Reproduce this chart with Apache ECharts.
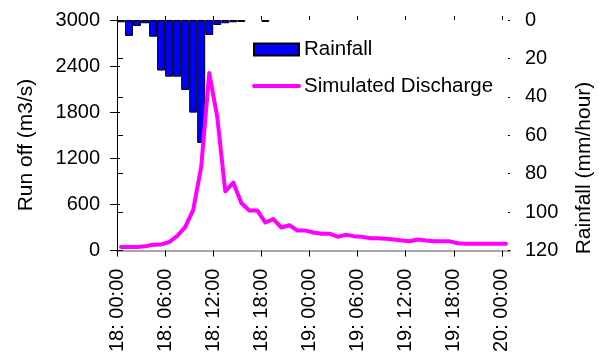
<!DOCTYPE html>
<html>
<head>
<meta charset="utf-8">
<script src="https://cdn.jsdelivr.net/npm/echarts@6/dist/echarts.min.js"></script>
<style>
html,body{margin:0;padding:0;background:#fff;}
#chart{width:599px;height:355px;}
</style>
</head>
<body>
<div id="chart"></div>
<script>
// Hourly data, 18: 00:00 to 20: 00:00 (49 hourly categories)
const hourCount = 49;
const tickHours = [0, 6, 12, 18, 24, 30, 36, 42, 48];
const tickLabels = ['18: 00:00', '18: 06:00', '18: 12:00', '18: 18:00', '19: 00:00', '19: 06:00', '19: 12:00', '19: 18:00', '20: 00:00'];

// Rainfall (mm/hour)
const rainfall = [1.2, 8.3, 3.1, 1.7, 8.7, 26.3, 29.5, 29.5, 36.4, 48.2,
  64, 7.8, 2.6, 1.7, 1.2, 1, 0, 0, 1, 0,
  0, 0, 0, 0, 0, 0, 0, 0, 0, 0,
  0, 0, 0, 0, 0, 0, 0, 0, 0, 0,
  0, 0, 0, 0, 0, 0, 0, 0, 0];

// Simulated discharge (m3/s)
const discharge = [48, 48, 48, 55, 75, 80, 110, 190, 305, 530,
  1090, 2310, 1740, 770, 885, 620, 520, 520, 365, 410,
  300, 330, 260, 260, 235, 220, 220, 180, 205, 188,
  180, 162, 160, 155, 143, 132, 122, 145, 130, 122,
  120, 120, 95, 90, 90, 90, 90, 90, 90];

const FONT = "'Liberation Sans', Arial, sans-serif";
const chart = echarts.init(document.getElementById('chart'), null, {renderer: 'canvas'});

const barData = rainfall.map((v, i) => [i + 0.5, v]).filter(d => d[1] > 0);
const lineData = discharge.map((v, i) => [i + 0.5, v]);

const txt = {color: '#000', fontSize: 20, fontFamily: FONT};
const plain = v => String(v);

chart.setOption({
  animation: false,
  backgroundColor: '#fff',
  grid: {left: 117, top: 20, width: 393, height: 231, containLabel: false},
  legend: {
    orient: 'vertical', left: 252, top: 39, padding: 0, itemGap: 15.5,
    itemWidth: 45, itemHeight: 12, selectedMode: false,
    textStyle: {color: '#000', fontSize: 20.5, fontFamily: FONT, lineHeight: 20},
    lineStyle: {width: 4},
    data: [
      {name: 'Rainfall', icon: 'rect'},
      {name: 'Simulated Discharge', itemStyle: {opacity: 0}}
    ]
  },
  xAxis: [
    {
      type: 'value', min: 0, max: hourCount, position: 'bottom',
      axisLine: {show: true, lineStyle: {color: '#000', width: 1}},
      axisTick: {show: true, customValues: tickHours, length: 6, lineStyle: {color: '#000'}},
      axisLabel: Object.assign({customValues: tickHours, rotate: 90, margin: 18,
        formatter: v => tickLabels[tickHours.indexOf(v)] || ''}, txt),
      splitLine: {show: false}
    },
    {
      type: 'value', min: 0, max: hourCount, position: 'bottom',
      axisLine: {show: false},
      axisTick: {show: true, inside: true, customValues: tickHours, length: 4, lineStyle: {color: '#000'}},
      axisLabel: {show: false}, splitLine: {show: false}
    },
    {
      type: 'value', min: 0, max: hourCount, position: 'top',
      axisLine: {show: true, lineStyle: {color: '#a8a8a8', width: 2}},
      axisTick: {show: false}, axisLabel: {show: false}, splitLine: {show: false}
    }
  ],
  yAxis: [
    {
      type: 'value', position: 'left', min: 0, max: 3000, interval: 600,
      axisLine: {show: true, lineStyle: {color: '#000'}},
      axisTick: {show: true, length: 7, lineStyle: {color: '#000'}},
      axisLabel: Object.assign({margin: 17, formatter: plain}, txt),
      splitLine: {show: false}
    },
    {
      type: 'value', position: 'right', inverse: true, min: 0, max: 120, interval: 20,
      axisLine: {show: true, lineStyle: {color: '#000'}},
      axisTick: {show: true, length: 6, lineStyle: {color: '#000'}},
      axisLabel: Object.assign({margin: 15, formatter: plain}, txt),
      splitLine: {show: false}
    },
    {
      type: 'value', position: 'left', min: 0, max: 3000, interval: 600,
      axisLine: {show: false},
      axisTick: {show: true, inside: true, length: 3, lineStyle: {color: '#000'}},
      axisLabel: {show: false}, splitLine: {show: false}
    },
    {
      type: 'value', position: 'right', inverse: true, min: 0, max: 120, interval: 20,
      axisLine: {show: false},
      axisTick: {show: true, inside: true, length: 2, lineStyle: {color: '#000'}},
      axisLabel: {show: false}, splitLine: {show: false}
    }
  ],
  graphic: [
    {type: 'text', x: 26, y: 145, rotation: Math.PI / 2,
      style: {text: 'Run off (m3/s)', fill: '#000', font: "21px 'Liberation Sans', Arial, sans-serif", textAlign: 'center', textVerticalAlign: 'middle'}},
    {type: 'text', x: 584, y: 168, rotation: Math.PI / 2,
      style: {text: 'Rainfall (mm/hour)', fill: '#000', font: "21px 'Liberation Sans', Arial, sans-serif", textAlign: 'center', textVerticalAlign: 'middle'}}
  ],
  series: [
    {
      name: 'Rainfall', type: 'bar', xAxisIndex: 0, yAxisIndex: 1,
      barWidth: 8,
      itemStyle: {color: '#0000ff', borderColor: '#000', borderWidth: 1},
      data: barData, z: 2
    },
    {
      name: 'Simulated Discharge', type: 'line', xAxisIndex: 0, yAxisIndex: 0,
      symbol: 'none',
      lineStyle: {color: '#ff00ff', width: 4, cap: 'round', join: 'round'},
      itemStyle: {color: '#ff00ff'},
      data: lineData, z: 3
    }
  ]
});
</script>
</body>
</html>
